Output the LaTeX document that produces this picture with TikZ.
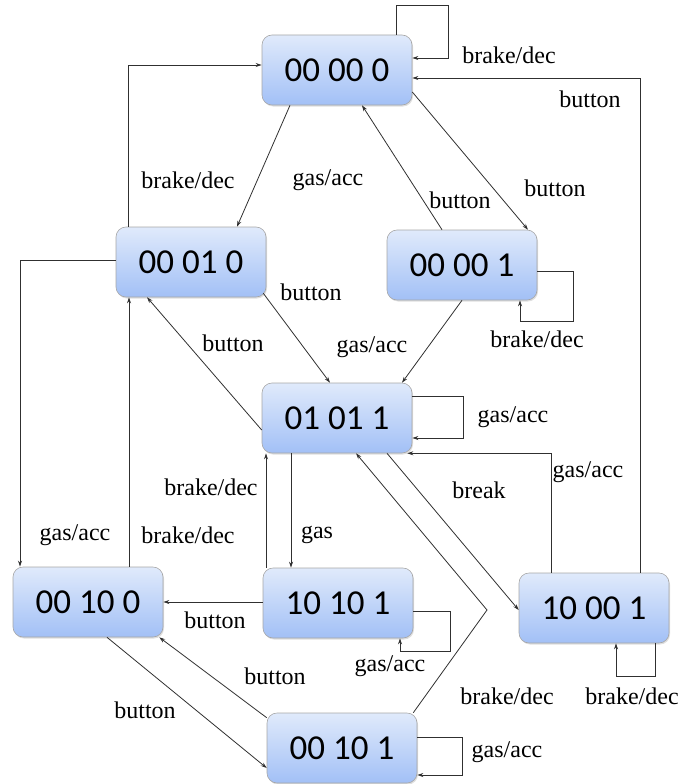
\documentclass[tikz,border=0pt]{standalone}
\usepackage{fontspec}
\setmainfont{Liberation Serif}
\newfontfamily\boxfont{Carlito}
\usetikzlibrary{calc,arrows.meta,shadows}
\definecolor{boxtop}{HTML}{E0EAFB}
\definecolor{boxbot}{HTML}{A2C0F6}
\definecolor{linec}{HTML}{303030}
\begin{document}
\begin{tikzpicture}[x=1pt,y=-1pt,
  state/.style={rectangle, rounded corners=10pt, minimum width=150pt, minimum height=70pt,
    top color=boxtop, bottom color=boxbot, draw=black!35, line width=0.6pt,
    drop shadow={opacity=0.25, shadow xshift=1pt, shadow yshift=-1.5pt},
    font=\boxfont\fontsize{35}{40}\selectfont, inner sep=0pt},
  arr/.style={draw=linec, line width=0.8pt, -{Stealth[length=6pt,width=4pt]}},
  lbl/.style={font=\fontsize{24}{28}\selectfont, inner sep=0pt}]
\useasboundingbox (0,0) rectangle (682,784);

% states
\node[state] (n0)    at (337,70)  {00 00 0};
\node[state] (n010)  at (191,262) {00 01 0};
\node[state] (n001)  at (462,265) {00 00 1};
\node[state] (n011)  at (337,418) {01 01 1};
\node[state] (n100)  at (88,602)  {00 10 0};
\node[state] (n101)  at (338,603) {10 10 1};
\node[state] (n1001) at (594,608) {10 00 1};
\node[state] (n0101) at (342,748) {00 10 1};

% 00 00 0 self-loop
\draw[arr] ($(n0.north)+(59,0)$) -- ++(0,-29) -| ($(n0.east)+(36,-12)$) -- ($(n0.east)+(0,-12)$);
% 00 01 0 -> 00 00 0
\draw[arr] ($(n010.north west)+(13,0)$) |- ($(n0.west)+(0,-5)$);
% 00 00 0 -> 00 01 0
\draw[arr] ($(n0.south)+(-47,0)$) -- ($(n010.north)+(46,0)$);
% 00 00 1 -> 00 00 0
\draw[arr] ($(n001.north)+(-20,0)$) -- ($(n0.south)+(25,0)$);
% 00 00 0 -> 00 00 1
\draw[arr] ($(n0.east)+(0,22)$) -- ($(n001.north)+(66,0)$);
% 10 00 1 -> 00 00 0
\draw[arr] ($(n1001.north)+(46,0)$) |- ($(n0.east)+(0,8)$);
% 00 00 1 self-loop
\draw[arr] ($(n001.east)+(0,6)$) -- ++(36,0) |- ($(n001.south)+(58,21)$) -- ($(n001.south)+(58,0)$);
% 00 01 0 -> 00 10 0
\draw[arr] ($(n010.west)+(0,-2)$) -| ($(n100.north)+(-68,0)$);
% 00 10 0 -> 00 01 0
\draw[arr] ($(n100.north)+(41,0)$) -- ($(n010.south)+(-62,0)$);
% 01 01 1 -> 00 01 0
\draw[arr] ($(n011.west)+(0,12)$) -- ($(n010.south)+(-44,0)$);
% 00 01 0 -> 01 01 1
\draw[arr] ($(n010.south east)+(-3,-4)$) -- ($(n011.north)+(-7,0)$);
% 00 00 1 -> 01 01 1
\draw[arr] (n001.south) -- ($(n011.north)+(65,0)$);
% 01 01 1 self-loop
\draw[arr] ($(n011.east)+(0,-22)$) -- ++(51,0) |- ($(n011.east)+(0,20)$);
% 10 00 1 -> 01 01 1
\draw[arr] ($(n1001.north)+(-43,0)$) |- ($(n011.south east)+(-5,0)$);
% 01 01 1 -> 10 00 1
\draw[arr] ($(n011.south)+(50,0)$) -- ($(n1001.west)+(0,2)$);
% 00 10 1 -> 01 01 1
\coordinate (bend) at (487,610);
\draw[arr] ($(n0101.north east)+(-4,0)$) -- (bend) -- ($(n011.south)+(19,0)$);
% 01 01 1 -> 10 10 1
\draw[arr] ($(n011.south)+(-46,0)$) -- ($(n101.north)+(-47,0)$);
% 10 10 1 -> 01 01 1
\draw[arr] ($(n101.north)+(-72,0)$) -- ($(n011.south)+(-71,0)$);
% 10 10 1 self-loop
\draw[arr] ($(n101.east)+(0,8)$) -- ++(37,0) |- ($(n101.south)+(62,13)$) -- ($(n101.south)+(62,0)$);
% 10 10 1 -> 00 10 0
\draw[arr] ($(n101.west)+(0,-1)$) -- ($(n100.east)+(0,0)$);
% 00 10 0 -> 00 10 1
\draw[arr] ($(n100.south)+(19,0)$) -- ($(n0101.west)+(0,20)$);
% 00 10 1 -> 00 10 0
\draw[arr] ($(n0101.north west)+(0,5)$) -- ($(n100.south east)+(-4,0)$);
% 10 00 1 self-loop
\draw[arr] ($(n1001.south)+(61,0)$) -- ++(0,33) -| ($(n1001.south)+(22,0)$);
% 00 10 1 self-loop
\draw[arr] ($(n0101.east)+(0,-11)$) -- ++(45,0) |- ($(n0101.east)+(0,27)$);

% labels
\node[lbl] (l1)  at (509,55)  {brake/dec};
\node[lbl] (l2)  at (590,99)  {button};
\node[lbl] (l3)  at (188,180) {brake/dec};
\node[lbl] (l4)  at (328,180) {gas/acc};
\node[lbl] (l5)  at (555,188) {button};
\node[lbl] (l6)  at (460,200) {button};
\node[lbl] (l7)  at (311,292) {button};
\node[lbl] (l8)  at (537,339) {brake/dec};
\node[lbl] (l9)  at (233,343) {button};
\node[lbl] (l10) at (372,347) {gas/acc};
\node[lbl] (l11) at (513,417) {gas/acc};
\node[lbl] (l12) at (588,472) {gas/acc};
\node[lbl] (l13) at (479,490) {break};
\node[lbl] (l14) at (211,487) {brake/dec};
\node[lbl] (l15) at (75,535)  {gas/acc};
\node[lbl] (l16) at (188,535) {brake/dec};
\node[lbl] (l17) at (317,535) {gas};
\node[lbl] (l18) at (215,620) {button};
\node[lbl] (l19) at (390,666) {gas/acc};
\node[lbl] (l20) at (275,676) {button};
\node[lbl] (l21) at (507,696) {brake/dec};
\node[lbl] (l22) at (632,696) {brake/dec};
\node[lbl] (l23) at (145,710) {button};
\node[lbl] (l24) at (507,752) {gas/acc};
\end{tikzpicture}
\end{document}
